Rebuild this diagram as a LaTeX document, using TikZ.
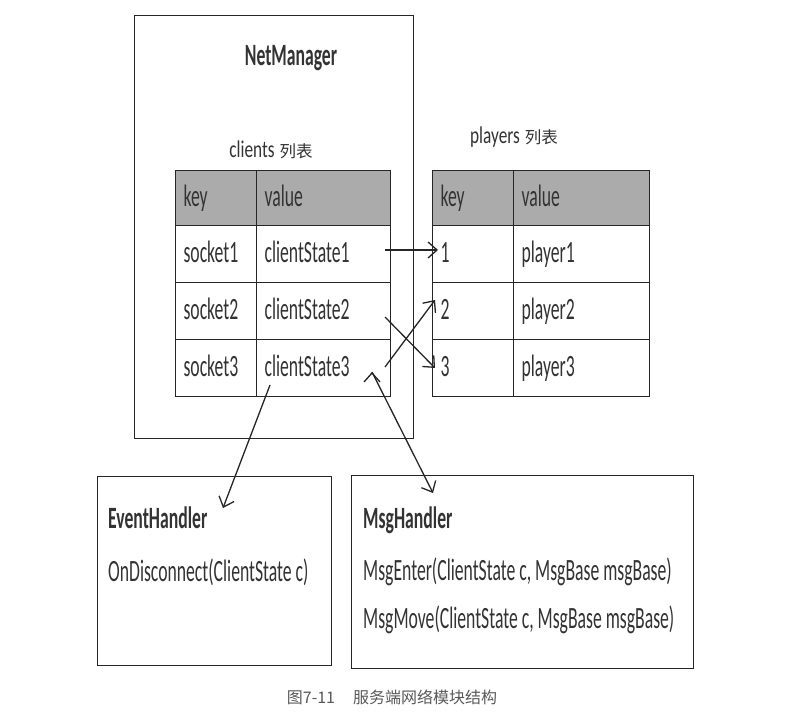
\documentclass[tikz,border=0pt]{standalone}
\usepackage{fontspec}
\setmainfont{Carlito}[FakeStretch=0.57]
\newfontfamily\lblfont{Carlito}[FakeStretch=0.72]
\newfontfamily\cjk{Noto Sans CJK SC}
\usetikzlibrary{positioning, arrows.meta, calc}

\tikzset{
  box/.style={draw=black!85, line width=1.2pt, anchor=north west, inner sep=0pt},
  cell/.style={draw=black!85, line width=1.1pt, anchor=north west, inner xsep=8pt, inner ysep=0pt,
    align=left, text height=22pt, text depth=5pt, minimum height=57pt, text=black!80,
    font=\fontsize{31}{34}\selectfont},
  head/.style={cell, fill=black!33, minimum height=55pt},
  keycol/.style={text width=65pt},
  valcol/.style={text width=118pt},
  pvalcol/.style={text width=120pt},
  txt/.style={anchor=base west, inner sep=0pt, text=black!80, font=\fontsize{31}{34}\selectfont},
  title/.style={txt, font=\bfseries\fontsize{31}{34}\selectfont},
  lbl/.style={anchor=base, inner sep=0pt, text=black!80, font=\lblfont\fontsize{24}{28}\selectfont},
  link/.style={draw=black!85, line width=1.3pt, -{Straight Barb[length=9pt, width=16pt]}},
}

\begin{document}
\begin{tikzpicture}[x=1pt, y=-1pt]
  \useasboundingbox[fill=white] (0,0) rectangle (786,715);

  % outer boxes
  \node[box, minimum width=279pt, minimum height=423pt] (net) at (134,15) {};
  \node[box, minimum width=234pt, minimum height=189pt] (event) at (97,476) {};
  \node[box, minimum width=342pt, minimum height=193pt] (msg) at (351,475) {};
  \node[title, anchor=base] (netname) at (291,65) {NetManager};

  % clients table
  \node[lbl] (clientslbl) at (271,157) {clients\hspace{5pt}{\cjk\fontsize{16.5}{20}\selectfont 列表}};
  \node[head, keycol] (ck) at (175,170) {key};
  \node[head, valcol] (cv) at (256,170) {value};
  \node[cell, keycol] (ck1) at (175,225) {socket1};
  \node[cell, valcol] (cv1) at (256,225) {clientState1};
  \node[cell, keycol] (ck2) at (175,282) {socket2};
  \node[cell, valcol] (cv2) at (256,282) {clientState2};
  \node[cell, keycol] (ck3) at (175,339) {socket3};
  \node[cell, valcol] (cv3) at (256,339) {clientState3};

  % players table
  \node[lbl] (playerslbl) at (514,143) {players\hspace{5pt}{\cjk\fontsize{16.5}{20}\selectfont 列表}};
  \node[head, keycol] (pk) at (432,170) {key};
  \node[head, pvalcol] (pv) at (513,170) {value};
  \node[cell, keycol] (pk1) at (432,225) {1};
  \node[cell, pvalcol] (pv1) at (513,225) {player1};
  \node[cell, keycol] (pk2) at (432,282) {2};
  \node[cell, pvalcol] (pv2) at (513,282) {player2};
  \node[cell, keycol] (pk3) at (432,339) {3};
  \node[cell, pvalcol] (pv3) at (513,339) {player3};

  % handlers
  \node[title] (eventname) at (108,528) {EventHandler};
  \node[txt] (ondis) at (108,581) {OnDisconnect(ClientState c)};
  \node[title] (msgname) at (363,528) {MsgHandler};
  \node[txt] (msgenter) at (363,580) {MsgEnter(ClientState c, MsgBase msgBase)};
  \node[txt] (msgmove) at (363,628) {MsgMove(ClientState c, MsgBase msgBase)};

  % arrow ends
  \coordinate (s1) at (385,250);
  \coordinate (t1) at (438,250);
  \coordinate (s2) at (385,317);
  \coordinate (t3) at (435,368);
  \coordinate (s3) at (385,367);
  \coordinate (t2) at (435,300);
  \coordinate (se) at (270,385);
  \coordinate (te) at (223,508);
  \coordinate (sm) at (372,372);
  \coordinate (tm) at (433,493);

  \draw[link]
    (s1) edge (t1)
    (s3) edge (t2)
    (s2) edge (t3)
    (se) edge (te)
    (sm) edge (tm);

  \node[font=\cjk\fontsize{16}{20}\selectfont, text=black!65] (caption) at (392,697) {图7-11\hspace{18pt}服务端网络模块结构};
\end{tikzpicture}
\end{document}
